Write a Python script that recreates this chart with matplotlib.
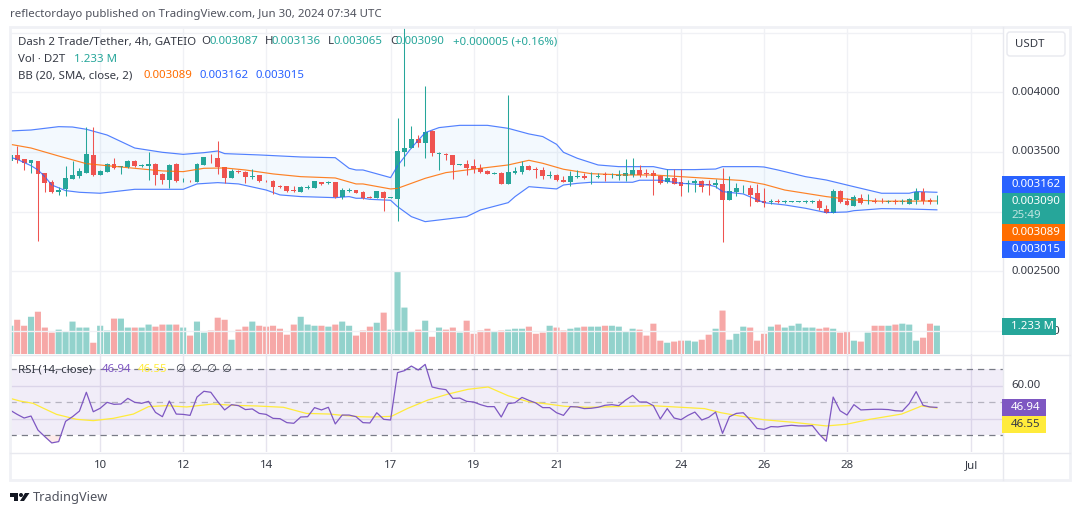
# Dash 2 Trade / Tether 4h chart, TradingView style
import numpy as np
import matplotlib
matplotlib.use('Agg')
import matplotlib.pyplot as plt
from matplotlib.patches import Rectangle, FancyBboxPatch, Polygon, Circle

plt.rcParams['font.family'] = ['Noto Sans', 'DejaVu Sans']

# prices in millionths of USDT
opens = [3424,3475,3438,3408,3424,3324,3251,3168,3187,3276,
         3302,3327,3475,3310,3332,3399,3377,3377,3424,3385,
         3385,3399,3318,3265,3399,3262,3260,3251,3394,3461,
         3450,3371,3285,3341,3332,3293,3307,3260,3257,3218,
         3212,3181,3168,3201,3201,3248,3243,3248,3126,3176,
         3181,3168,3126,3115,3165,3115,3106,3500,3533,3606,
         3576,3676,3483,3486,3475,3394,3399,3383,3363,3341,
         3318,3327,3232,3327,3332,3383,3357,3349,3299,3307,
         3262,3248,3290,3299,3288,3293,3313,3304,3299,3299,
         3304,3349,3321,3324,3299,3248,3282,3246,3232,3243,
         3254,3232,3226,3232,3101,3168,3195,3198,3156,3087,
         3081,3089,3084,3084,3084,3084,3084,3089,3022,2991,
         3173,3089,3048,3115,3087,3092,3092,3081,3089,3081,
         3064,3098,3162,3098,3087]
highs = [3475,3553,3438,3430,3424,3324,3265,3209,3383,3422,
         3363,3709,3709,3349,3405,3447,3383,3433,3433,3402,
         3497,3405,3327,3399,3405,3279,3265,3405,3461,3483,
         3592,3377,3355,3346,3341,3355,3307,3265,3262,3223,
         3215,3215,3212,3221,3257,3251,3257,3251,3201,3195,
         3181,3173,3131,3176,3170,3123,3785,4600,3718,3640,
         4053,3684,3497,3494,3475,3399,3433,3441,3399,3349,
         3332,3332,3978,3374,3425,3388,3371,3371,3344,3313,
         3296,3344,3346,3327,3335,3321,3335,3327,3349,3441,
         3450,3388,3355,3349,3304,3355,3355,3355,3265,3271,
         3262,3265,3276,3369,3299,3237,3223,3221,3232,3198,
         3103,3103,3095,3092,3092,3098,3095,3103,3053,3187,
         3179,3117,3137,3148,3148,3112,3115,3101,3106,3103,
         3115,3198,3198,3115,3136]
lows = [3327,3405,3349,3321,2757,3168,3159,3142,3134,3274,
        3279,3327,3299,3307,3332,3357,3316,3369,3377,3374,
        3265,3223,3232,3201,3251,3251,3246,3246,3391,3405,
        3316,3237,3285,3327,3237,3274,3251,3248,3148,3201,
        3168,3162,3165,3193,3198,3223,3232,3117,3109,3168,
        3159,3109,3112,3112,3006,3112,2922,3385,3533,3545,
        3450,3467,3349,3433,3274,3391,3307,3327,3327,3316,
        3316,3232,3232,3316,3316,3346,3282,3276,3282,3257,
        3246,3218,3282,3276,3232,3279,3257,3285,3262,3257,
        3293,3293,3293,3142,3232,3237,3229,3134,3165,3165,
        3165,3142,3195,2749,3095,3134,3159,3050,3078,3039,
        3067,3075,3075,3078,3078,3072,3075,3014,2986,2991,
        3075,3053,3045,3061,3064,3075,3072,3072,3064,3064,
        3061,3064,3064,3064,3065]
closes = [3475,3433,3410,3430,3318,3243,3165,3181,3279,3304,
          3338,3483,3307,3341,3399,3369,3383,3424,3383,3391,
          3399,3307,3265,3391,3260,3268,3254,3399,3455,3455,
          3371,3282,3341,3332,3293,3302,3257,3254,3209,3209,
          3176,3176,3207,3207,3254,3232,3248,3126,3181,3184,
          3159,3115,3115,3170,3115,3120,3508,3534,3606,3573,
          3668,3494,3489,3472,3391,3399,3369,3355,3332,3318,
          3327,3232,3332,3338,3383,3352,3346,3299,3304,3265,
          3251,3299,3299,3282,3293,3299,3304,3310,3304,3324,
          3346,3310,3316,3299,3240,3282,3235,3218,3240,3257,
          3209,3226,3240,3101,3170,3198,3201,3140,3084,3075,
          3087,3084,3087,3087,3087,3087,3087,3031,2991,3170,
          3081,3056,3123,3072,3092,3084,3087,3089,3081,3089,
          3106,3162,3087,3084,3090]

# volume in millions
volumes = [1.23,1.49,1.23,1.62,1.84,1.15,.93,1.06,.97,1.41,
           1.15,1.15,.49,1.23,1.02,1.54,1.54,1.15,1.15,1.15,
           1.28,1.19,1.28,1.28,1.28,1.15,.80,1.41,.93,1.02,
           1.58,1.49,.62,1.06,1.19,1.41,1.23,1.19,1.23,1.10,
           .84,1.28,1.62,1.28,1.23,1.23,1.19,1.28,1.41,1.23,
           .80,1.02,1.19,1.36,1.80,1.06,3.58,2.02,.97,1.06,
           1.45,.75,1.15,1.06,1.15,.93,1.45,.88,1.02,1.10,
           .97,1.02,1.06,1.10,1.10,1.19,.88,.93,1.23,1.15,
           1.02,1.10,1.15,1.19,1.19,1.19,1.23,1.23,1.19,.97,
           1.10,1.06,.80,1.32,.58,.49,.54,.58,.58,.54,
           .62,.84,1.10,1.89,.62,.88,1.19,1.15,.58,.88,
           1.19,1.28,1.15,1.23,1.32,1.15,1.15,1.10,1.15,1.10,
           .93,.97,.58,.54,.93,1.23,1.23,1.23,1.28,1.32,
           1.28,.58,.71,1.32,1.233]

rsi = [45.2,42.7,40.5,41.7,33.2,29.2,25.4,26.2,38.5,41.3,
       44.7,56.1,44.3,46.4,50,48.8,49,52.4,50,49.4,
       50.6,43.9,41.3,50.8,42.9,42.7,42.1,53.2,56.7,56.1,
       50.4,45.4,48.6,48,45.6,46,43.3,42.7,40.3,40.1,
       37.7,37.3,41.1,41.3,46.8,45.4,47,36.9,42.3,42.3,
       41.3,37.7,37.5,43.7,39.7,39.3,68,69.2,72,69.6,
       73,59.3,58.3,57.7,52.4,52.6,50.6,50.2,48.6,47.4,
       47.4,41.1,49.2,49.8,53,51.2,49.6,46.8,46.8,43.7,
       42.1,47.4,47.2,46.2,46.4,47,48.2,48.6,48,51.4,
       54.2,50.2,50.2,48,39.9,46.2,40.5,39.5,42.1,44.1,
       39.3,40.9,44.1,31.2,41.3,43.3,43.7,39.3,34.2,33.6,
       35.3,35.1,35.7,36.1,35.7,35.7,35.9,30.6,26.4,53.2,
       44.9,42.3,48.6,45.4,45.6,45.8,45.8,45.6,44.9,44.7,
       49.2,56.5,48.2,47.2,46.94]

rsi_ma_bar = [0,1.4,3.3,4.8,6.7,9.6,12,14.9,17.8,20,22.6,25.5,29.3,32.2,35.6,39.5,42.8,46.2,47.6,50.5,
              52.2,55.1,57.5,60.4,63.3,66.2,69.1,72,74.9,77.7,80.2,83.5,87.4,92.7,97,100.4,102.8,
              105.5,108.9,113.2,118,120.9,124.3,128.9,131.8,134]
rsi_ma = [52.4,50.8,49.4,46.4,42.7,39.7,38.9,40.3,42.9,47.4,48,47.2,49,48.2,47.8,47,43.3,42.9,42.3,41.3,
          41.1,41.5,46.4,51.4,55,57.9,59.3,54,50.4,49,47.6,47,47.4,48,47,46.2,43.7,
          41.7,39.5,37.9,35.7,36.7,39.7,42.9,47.8,46.55]

# Bollinger bands, read at the bars where the lines bend
bb_up_bar = [0,3,7,9,11,14,18,22,25,28,30,31,36,42,47,49,50,51,55,56,58,60,62,65,69,72,75,77,79,80,82,85,88,93,95,99,102,103,108,109,111,115,118,122,126,130,131,134]
bb_up = [3676,3684,3712,3709,3690,3642,3533,3497,3480,3494,3508,3486,3475,3458,3452,3363,3349,3349,3285,3383,3534,3662,3704,3723,3723,3698,3651,3629,3564,3497,3447,3391,3377,3377,3352,3352,3357,3377,3377,3374,3349,3293,3265,3209,3154,3154,3168,3162]
bb_mid_bar = [0,3,7,11,14,18,22,25,28,31,34,38,42,47,50,51,55,56,60,63,66,72,75,77,80,84,89,93,97,103,106,109,112,118,122,126,134]
bb_mid = [3564,3533,3466,3402,3385,3363,3341,3335,3363,3366,3349,3316,3293,3282,3232,3232,3190,3195,3279,3327,3349,3391,3430,3405,3355,3318,3307,3307,3293,3271,3260,3229,3181,3126,3098,3087,3089]
bb_low_bar = [0,1,3,4,5,6,8,10,13,18,22,25,27,30,33,37,39,42,47,49,50,51,52,55,56,58,60,66,68,72,73,75,79,80,82,84,90,91,94,97,101,102,103,106,109,112,115,118,121,122,126,130,134]
bb_low = [3455,3438,3385,3349,3293,3223,3176,3162,3154,3187,3187,3187,3232,3243,3232,3181,3140,3126,3117,3126,3112,3112,3103,3095,3042,2958,2916,2958,3014,3075,3126,3209,3190,3223,3237,3246,3246,3263,3263,3237,3223,3209,3168,3148,3075,3056,3028,2992,2997,3008,3025,3022,3015]

date_bars = [13,25,37,55,67,79,97,109,121,139]
date_labels = ['10','12','14','17','19','21','24','26','28','Jul']
price_ticks = [0.0020,0.0025,0.0030,0.0035,0.0040,0.0045]

W, H = 1080, 515
GREEN, RED = '#26a69a', '#ef5350'
BLUE, ORANGE = '#2962ff', '#ff6d00'
PURPLE, YELLOW = '#7e57c2', '#ffeb3b'
GRID = '#f0f1f5'
TEXT = '#363a45'


def pane(left, top, right, bottom):
    return fig.add_axes([left/W, 1-bottom/H, (right-left)/W, (bottom-top)/H])


fig = plt.figure(figsize=(W/100, H/100), dpi=100, facecolor='white')

o, h, l, c = [np.array(a)*1e-6 for a in (opens, highs, lows, closes)]
vol = np.array(volumes)
bars = np.arange(len(o))
up = c >= o
colors = np.where(up, GREEN, RED)

# main pane
ax = pane(10, 27, 1003, 354)
ax_vol = ax.twinx()
ax_vol.set_ylim(0, 14.23)
ax_vol.bar(bars, vol, width=0.88, color=colors, alpha=0.5, linewidth=0, snap=False)
ax_vol.set_yticks([])
ax_vol.set_zorder(1)
ax.set_zorder(2)
ax.patch.set_visible(False)
ax.set_xlim(-0.04, 143.56)
ax.set_ylim(1807e-6, 4547e-6)
ax.set_yticks(price_ticks)
ax.set_xticks(date_bars)
ax.grid(True, color=GRID, lw=1)
ax.set_axisbelow(True)
ax.tick_params(length=0, labelbottom=False, labelleft=False)

xu, yu = np.array(bb_up_bar), np.array(bb_up)*1e-6
xm, ym = np.array(bb_mid_bar), np.array(bb_mid)*1e-6
xl, yl = np.array(bb_low_bar), np.array(bb_low)*1e-6
ax.fill(np.r_[xu, xl[::-1]], np.r_[yu, yl[::-1]], color='#2196f3', alpha=0.05, lw=0)
ax.plot(xu, yu, color=BLUE, lw=0.85, alpha=0.8)
ax.plot(xl, yl, color=BLUE, lw=0.85, alpha=0.8)
ax.plot(xm, ym, color=ORANGE, lw=0.85, alpha=0.85)

ax.vlines(bars, l, h, colors=colors, lw=0.75)
ax.bar(bars, np.abs(c-o), bottom=np.minimum(o, c), width=0.7, color=colors, linewidth=0)

# rsi pane
ax_rsi = pane(10, 354, 1003, 452)
ax_rsi.set_xlim(-0.04, 143.56)
ax_rsi.set_ylim(19.9, 79.3)
ax_rsi.axhspan(30, 70, color=PURPLE, alpha=0.1, lw=0)
ax_rsi.set_yticks([40, 60])
ax_rsi.set_xticks(date_bars)
ax_rsi.grid(True, color='#e6e4ee', lw=1)
ax_rsi.set_axisbelow(True)
ax_rsi.tick_params(length=0, labelbottom=False, labelleft=False)
for level, col in ((70, '#787b86'), (50, '#b5b3c0'), (30, '#787b86')):
    ax_rsi.axhline(level, color=col, lw=0.9, dashes=(5, 4))
r = np.array(rsi)
ax_rsi.fill_between(bars, r, 30, where=r < 30, interpolate=True, color=RED, alpha=0.12, lw=0)
ax_rsi.fill_between(bars, r, 70, where=r > 70, interpolate=True, color=GREEN, alpha=0.12, lw=0)
ax_rsi.plot(rsi_ma_bar, rsi_ma, color=YELLOW, lw=0.9)
ax_rsi.plot(bars, r, color=PURPLE, lw=0.9)

for a in (ax, ax_vol, ax_rsi):
    for s in a.spines.values():
        s.set_visible(False)

# overlay in pixel coordinates for the frame, labels and badges
ov = fig.add_axes([0, 0, 1, 1], zorder=10)
ov.set_xlim(0, W)
ov.set_ylim(H, 0)
ov.axis('off')
ov.patch.set_visible(False)

FRAME = '#e8e9ef'
ov.add_patch(Rectangle((10, 27), 1060, 453, fill=False, ec='#f0f1f5', lw=2))
ov.plot([1003, 1003], [27, 480], color=FRAME, lw=1)
ov.plot([10, 1070], [354.5, 354.5], color=FRAME, lw=1)
ov.plot([10, 1070], [452.5, 452.5], color=FRAME, lw=1)


def label(x, y, s, color=TEXT, size=8.25, **kw):
    ov.text(x, y, s, color=color, fontsize=size, va='center', ha=kw.pop('ha', 'left'), **kw)


def badge(y0, y1, x1, color, lines, tcolor='white'):
    ov.add_patch(Rectangle((1002, y0), x1-1002, y1-y0, color=color, lw=0, zorder=5))
    for yy, s, col in lines:
        label(1011, yy, s, color=tcolor if col is None else col,
              weight='bold' if col is None else 'normal', zorder=6)


label(10, 15, 'reflectordayo published on TradingView.com, Jun 30, 2024 07:34 UTC', color='#50535e')

label(18, 42, 'Dash 2 Trade/Tether, 4h, GATEIO')
for x, s in ((201, 'O'), (265, 'H'), (328, 'L'), (390, 'C')):
    label(x, 42, s)
for x, s in ((209, '0.003087'), (272, '0.003136'), (334, '0.003065'), (396, '0.003090'),
             (453, '+0.000005 (+0.16%)')):
    label(x, 42, s, color=GREEN)
label(18, 59, 'Vol · D2T')
label(74, 59, '1.233 M', color=GREEN)
label(18, 76, 'BB (20, SMA, close, 2)')
label(143, 76, '0.003089', color=ORANGE)
label(199, 76, '0.003162', color=BLUE)
label(255, 76, '0.003015', color=BLUE)

label(18, 370, 'RSI (14, close)')
label(102, 370, '46.94', color=PURPLE)
label(138, 370, '46.55', color=YELLOW)
for x in (175, 191, 206, 221):
    label(x, 370, '∅')

ov.add_patch(FancyBboxPatch((1007, 32), 58, 24, boxstyle='round,pad=0,rounding_size=3',
                            fc='white', ec='#e8e9ef', lw=1))
label(1015, 44.5, 'USDT')

# price scale
price_px = {'0.004000': 92.5, '0.003500': 151.5, '0.002500': 271.5, '0.002000': 331}
for s, y in price_px.items():
    label(1011, y, s)
label(1011, 385.5, '60.00')

badge(176, 193, 1065, BLUE, [(184.5, '0.003162', None)])
badge(193, 224, 1065, GREEN, [(201, '0.003090', None), (215, '25:49', '#bfe5e0')])
badge(224, 241, 1065, ORANGE, [(232.5, '0.003089', None)])
badge(241, 258, 1065, BLUE, [(249.5, '0.003015', None)])
badge(318, 335, 1056, GREEN, [(326.5, '1.233 M', None)])
badge(399, 416, 1046, PURPLE, [(407.5, '46.94', None)])
badge(416, 433, 1046, YELLOW, [(424.5, '46.55', TEXT)])

# date labels
for b, s in zip(date_bars, date_labels):
    label(10.3+6.915*b, 465.5, s, ha='center')

# logo
ov.add_patch(Polygon([(10, 493), (18, 493), (18, 501), (14, 501), (14, 497), (10, 497)], color='#131722', lw=0))
ov.add_patch(Circle((21, 495), 2, color='#131722', lw=0))
ov.add_patch(Polygon([(25, 493), (29.5, 493), (24, 501), (20, 501)], color='#131722', lw=0))
label(33, 497.5, 'TradingView', color='#50535e', size=9.2)

fig.savefig('out.png', dpi=100)
